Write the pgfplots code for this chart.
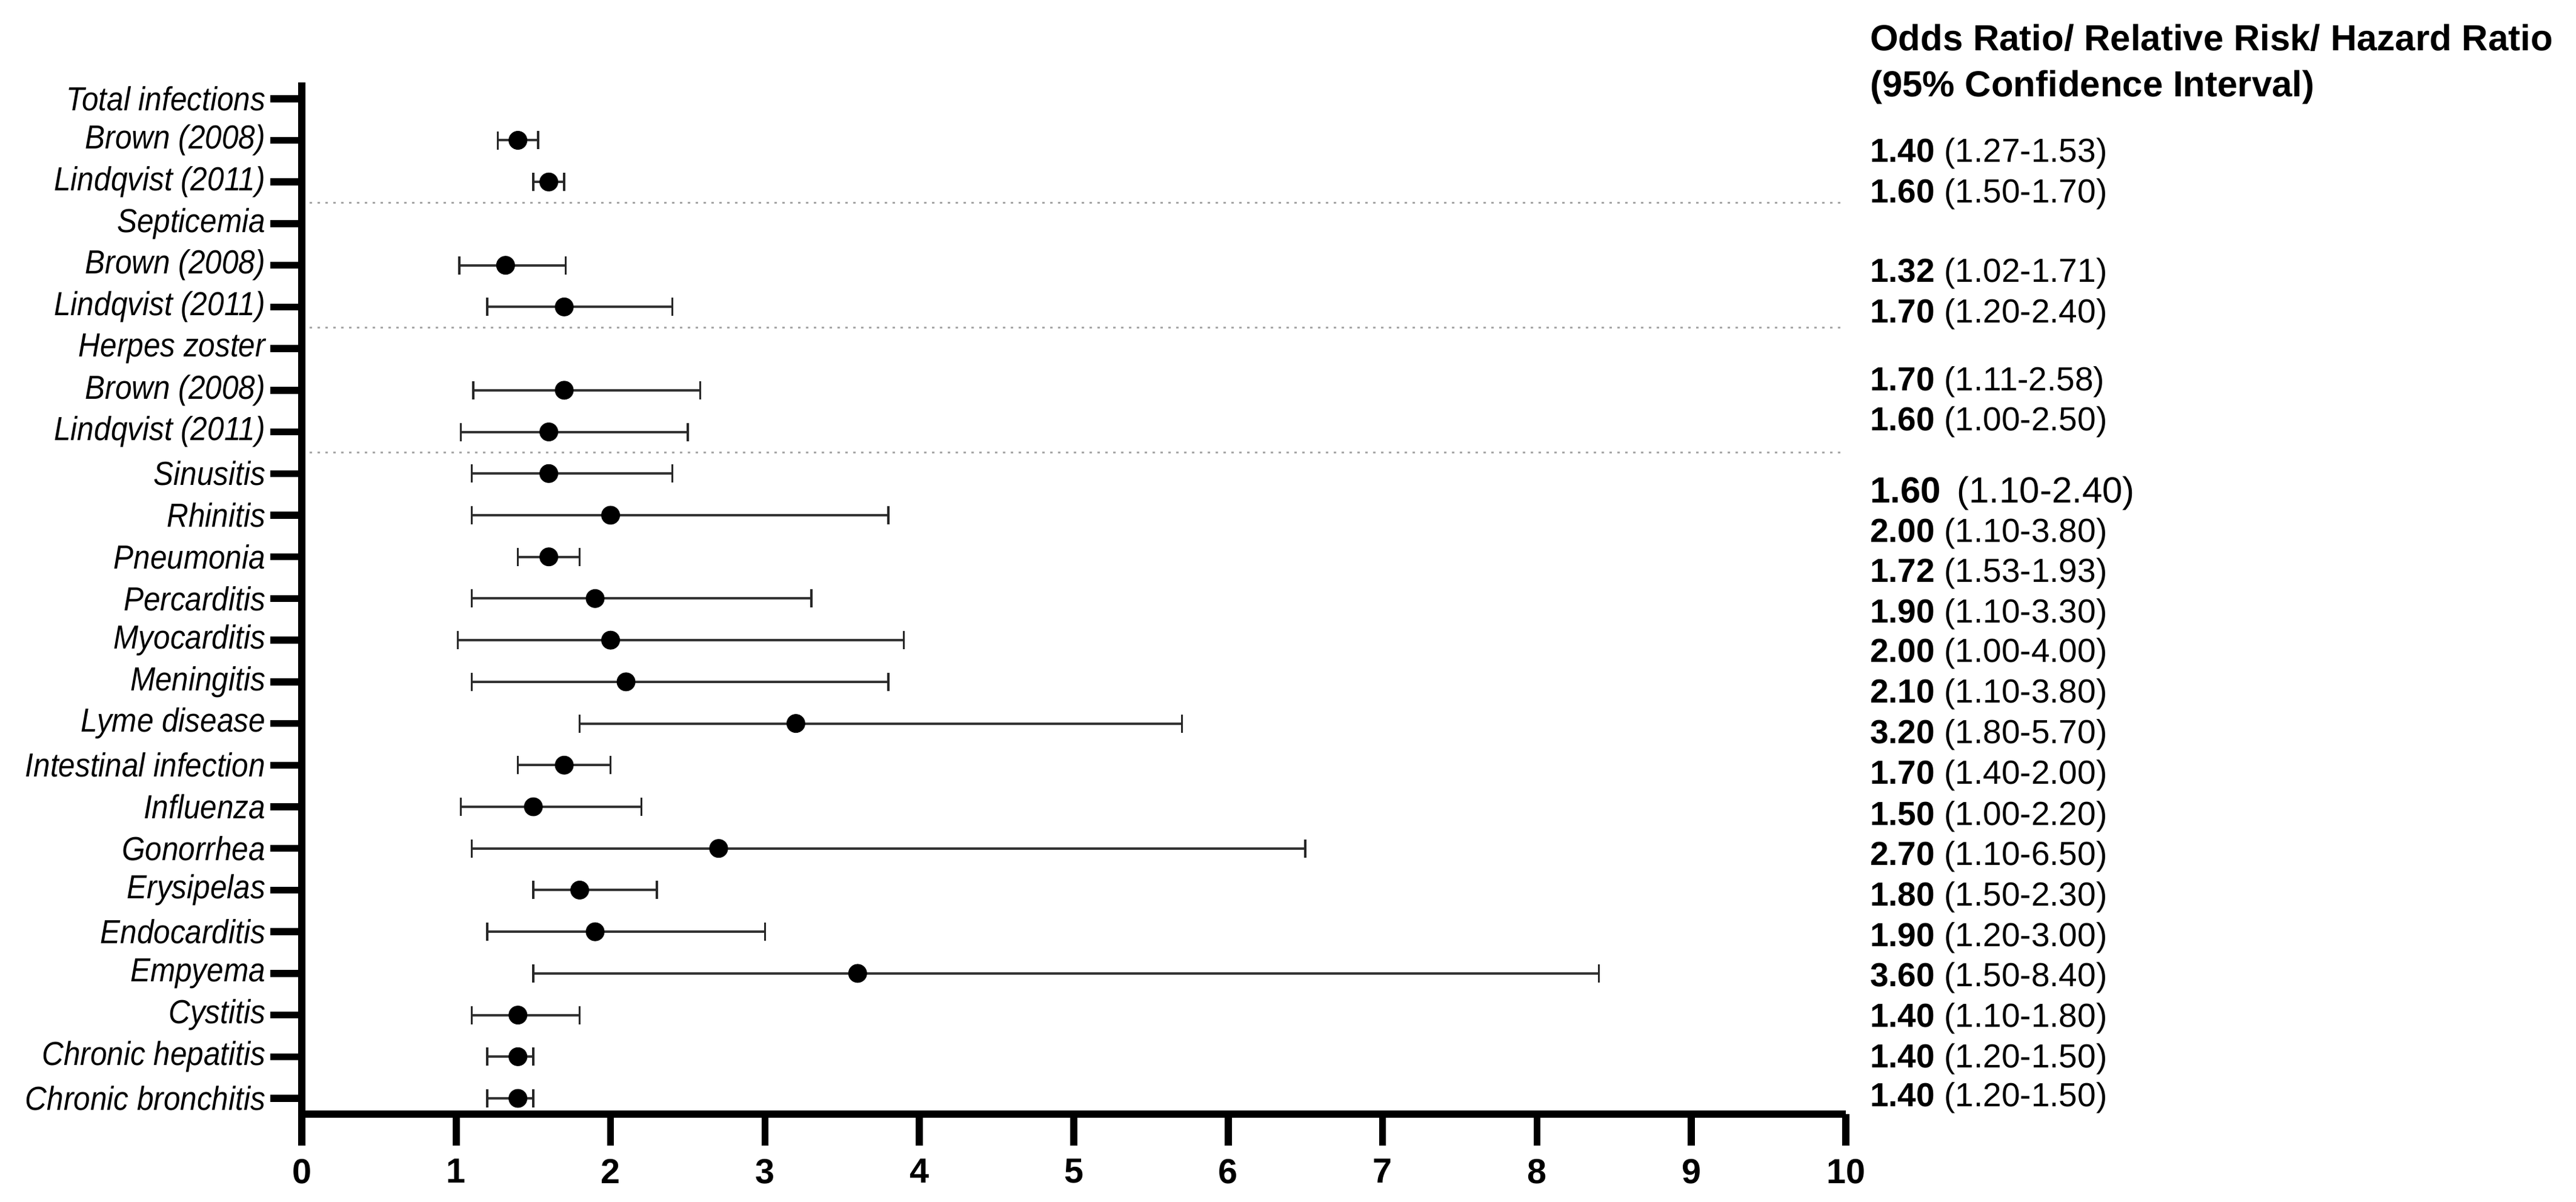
\documentclass[border=0pt]{standalone}
\usepackage{fontspec}
\setmainfont{Liberation Sans}
\newfontfamily\labelfont{Liberation Sans}[FakeStretch=0.9]
\usepackage{pgfplots}
\pgfplotsset{compat=1.18}
\usepackage{pgfplotstable}

\pgfplotstableread{
y or lo hi
23 1.40 1.27 1.53
22 1.60 1.50 1.70
20 1.32 1.02 1.71
19 1.70 1.20 2.40
17 1.70 1.11 2.58
16 1.60 1.03 2.50
15 1.60 1.10 2.40
14 2.00 1.10 3.80
13 1.60 1.40 1.80
12 1.90 1.10 3.30
11 2.00 1.01 3.90
10 2.10 1.10 3.80
9 3.20 1.80 5.70
8 1.70 1.40 2.00
7 1.50 1.03 2.20
6 2.70 1.10 6.50
5 1.80 1.50 2.30
4 1.90 1.20 3.00
3 3.60 1.50 8.40
2 1.40 1.10 1.80
1 1.40 1.20 1.50
0 1.40 1.20 1.50
}\forestdata

\begin{document}
\begin{tikzpicture}
\begin{axis}[
  at={(0,0)}, anchor=south west, scale only axis,
  width=509.6pt, height=340.4pt,
  xmin=0, xmax=10, ymin=-0.378, ymax=24.39,
  axis lines*=left, axis line style={-, line width=2.5pt, black},
  xtick={0,1,2,3,4,5,6,7,8,9,10},
  ytick={0,1,2,3,4,5,6,7,8,9,10,11,12,13,14,15,16,17,18,19,20,21,22,23,24},
  yticklabels={Chronic bronchitis, Chronic hepatitis, Cystitis, Empyema, Endocarditis, Erysipelas, Gonorrhea, Influenza, Intestinal infection, Lyme disease, Meningitis, Myocarditis, Percarditis, Pneumonia, Rhinitis, Sinusitis, Lindqvist (2011), Brown (2008), Herpes zoster, Lindqvist (2011), Brown (2008), Septicemia, Lindqvist (2011), Brown (2008), Total infections},
  tick align=outside, major tick length=10.3pt,
  tick style={line width=2.3pt, black},
  /pgf/number format/assume math mode=true,
  xticklabel style={font=\fontsize{11.5}{12}\selectfont\bfseries, yshift=-1pt},
  yticklabel style={font=\labelfont\fontsize{11}{13}\selectfont\itshape, inner sep=1.5pt},
  clip=false,
]
\addplot[gray!70, line width=0.6pt, dash pattern=on 0.8pt off 1.8pt] coordinates {(0.05,21.5) (9.98,21.5)};
\addplot[gray!70, line width=0.6pt, dash pattern=on 0.8pt off 1.8pt] coordinates {(0.05,18.5) (9.98,18.5)};
\addplot[gray!70, line width=0.6pt, dash pattern=on 0.8pt off 1.8pt] coordinates {(0.05,15.5) (9.98,15.5)};
\addplot[only marks, mark=*, mark size=2.9pt, black,
  error bars/.cd, x dir=both, x explicit,
  error bar style={line width=0.8pt, black!80},
  error mark options={rotate=90, mark size=3pt, line width=0.7pt, black!85}]
  table[x=or, y=y, x error plus expr=\thisrow{hi}-\thisrow{or}, x error minus expr=\thisrow{or}-\thisrow{lo}] {\forestdata};
\end{axis}
\begin{scope}[every node/.style={anchor=base west, inner sep=0pt, font=\fontsize{11}{13}\selectfont}]
\node[font=\fontsize{12}{14}\selectfont\bfseries] at (517.4pt,350.8pt) {Odds Ratio/ Relative Risk/ Hazard Ratio};
\node[font=\fontsize{12}{14}\selectfont\bfseries] at (517.4pt,335.6pt) {(95\% Confidence Interval)};
\node at (517.4pt,314.0pt) {\textbf{1.40} (1.27-1.53)};
\node at (517.4pt,300.6pt) {\textbf{1.60} (1.50-1.70)};
\node at (517.4pt,274.4pt) {\textbf{1.32} (1.02-1.71)};
\node at (517.4pt,261.0pt) {\textbf{1.70} (1.20-2.40)};
\node at (517.4pt,238.6pt) {\textbf{1.70} (1.11-2.58)};
\node at (517.4pt,225.4pt) {\textbf{1.60} (1.00-2.50)};
\node[font=\fontsize{12}{14}\selectfont] at (517.4pt,201.6pt) {\textbf{1.60}\, (1.10-2.40)};
\node at (517.4pt,188.6pt) {\textbf{2.00} (1.10-3.80)};
\node at (517.4pt,175.6pt) {\textbf{1.72} (1.53-1.93)};
\node at (517.4pt,162.2pt) {\textbf{1.90} (1.10-3.30)};
\node at (517.4pt,149.2pt) {\textbf{2.00} (1.00-4.00)};
\node at (517.4pt,135.8pt) {\textbf{2.10} (1.10-3.80)};
\node at (517.4pt,122.4pt) {\textbf{3.20} (1.80-5.70)};
\node at (517.4pt,109.0pt) {\textbf{1.70} (1.40-2.00)};
\node at (517.4pt,95.4pt) {\textbf{1.50} (1.00-2.20)};
\node at (517.4pt,82.2pt) {\textbf{2.70} (1.10-6.50)};
\node at (517.4pt,68.8pt) {\textbf{1.80} (1.50-2.30)};
\node at (517.4pt,55.4pt) {\textbf{1.90} (1.20-3.00)};
\node at (517.4pt,42.2pt) {\textbf{3.60} (1.50-8.40)};
\node at (517.4pt,28.8pt) {\textbf{1.40} (1.10-1.80)};
\node at (517.4pt,15.4pt) {\textbf{1.40} (1.20-1.50)};
\node at (517.4pt,2.6pt) {\textbf{1.40} (1.20-1.50)};
\end{scope}
\pgfresetboundingbox
\path[use as bounding box] (-99.6pt,-28.8pt) rectangle (750.6pt,367.6pt);
\end{tikzpicture}
\end{document}
